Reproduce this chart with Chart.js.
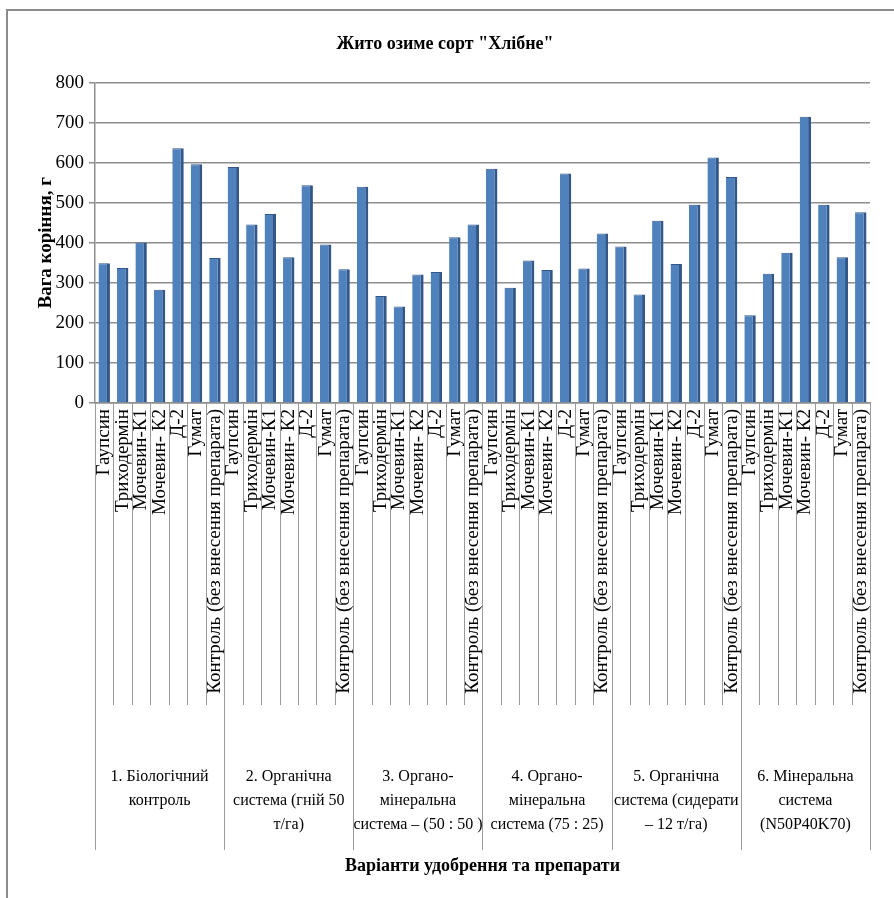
<!DOCTYPE html>
<html>
<head>
<meta charset="utf-8">
<script src="https://cdn.jsdelivr.net/npm/chart.js@4/dist/chart.umd.min.js"></script>
<style>
  body { margin: 0; background: #fff; }
  #wrap { position: relative; width: 894px; height: 898px; }
  #frame { position: absolute; left: 6px; top: 9px; width: 900px; height: 900px;
           border-top: 2px solid #8c8c8c; border-left: 2px solid #8c8c8c; }
  canvas { position: absolute; left: 0; top: 0; }
</style>
</head>
<body>
<div id="wrap">
  <div id="frame"></div>
  <canvas id="rootChart" width="894" height="898"></canvas>
</div>
<script>
const preparations = [
  "Гаупсин",
  "Триходермін",
  "Мочевин-К1",
  "Мочевин- К2",
  "Д-2",
  "Гумат",
  "Контроль (без внесення препарата)",
];

const groups = [
  ["1. Біологічний", "контроль"],
  ["2. Органічна", "система (гній 50", "т/га)"],
  ["3. Органо-", "мінеральна", "система – (50 : 50 )"],
  ["4. Органо-", "мінеральна", "система (75 : 25)"],
  ["5. Органічна", "система (сидерати", "– 12 т/га)"],
  ["6. Мінеральна", "система", "(N50P40K70)"],
];

// root weight, g (per fertiliser system, same order as preparations)
const biological = [349, 337, 401, 283, 636, 596, 362];
const organicManure = [589, 446, 472, 364, 544, 396, 334];
const organoMineral5050 = [540, 267, 241, 321, 327, 414, 446];
const organoMineral7525 = [585, 288, 356, 332, 573, 336, 423];
const organicSiderates = [391, 271, 455, 347, 495, 613, 564];
const mineral = [219, 323, 375, 715, 495, 364, 476];

const yTicks = { min: 0, max: 800, step: 100 };

const serif = "'Liberation Serif', 'Times New Roman', serif";

document.addEventListener("DOMContentLoaded", () => {
  const ctx = document.getElementById("rootChart").getContext("2d");

  const labels = [];
  groups.forEach(() => preparations.forEach((p) => labels.push(p)));
  const values = [
    ...biological,
    ...organicManure,
    ...organoMineral5050,
    ...organoMineral7525,
    ...organicSiderates,
    ...mineral,
  ];

  // lines between category labels and between groups
  const separators = {
    id: "separators",
    afterDraw(chart) {
      const x = chart.scales.x;
      const x2 = chart.scales.x2;
      const half = (x.getPixelForValue(1) - x.getPixelForValue(0)) / 2;
      const c = chart.ctx;
      c.save();
      c.strokeStyle = "#9a9a9a";
      c.lineWidth = 1;
      for (let i = 0; i <= labels.length; i++) {
        const px = Math.round(x.getPixelForValue(i) - half) + 0.5;
        const bottom = i % preparations.length === 0 ? x2.bottom - 38 : x.bottom;
        c.beginPath();
        c.moveTo(px, x.top);
        c.lineTo(px, bottom);
        c.stroke();
      }
      c.restore();
    },
  };

  const noSidePadding = (scale) => {
    scale.paddingLeft = 0;
    scale.paddingRight = 0;
  };

  new Chart(ctx, {
    type: "bar",
    data: {
      labels: labels,
      datasets: [
        {
          label: "Вага коріння, г",
          data: values,
          xAxisID: "x",
          backgroundColor: "#4f81bd",
          borderColor: "#34578a",
          borderWidth: { right: 3, top: 1, left: 0, bottom: 0 },
          borderSkipped: false,
          categoryPercentage: 1,
          barPercentage: 0.62,
        },
      ],
    },
    options: {
      responsive: false,
      animation: false,
      layout: { padding: { left: 20, right: 24, top: 10, bottom: 10 } },
      plugins: {
        legend: { display: false },
        tooltip: { enabled: false },
        title: {
          display: true,
          text: 'Жито озиме сорт "Хлібне"',
          color: "#000",
          font: { family: serif, size: 18, weight: "bold" },
          padding: { top: 24, bottom: 27 },
        },
      },
      scales: {
        y: {
          min: yTicks.min,
          max: yTicks.max,
          ticks: {
            stepSize: yTicks.step,
            color: "#000",
            font: { family: serif, size: 19 },
            padding: 5,
          },
          grid: { color: "#8e8e8e", lineWidth: 1.5, tickLength: 6 },
          border: { color: "#8e8e8e", width: 1.5 },
          title: {
            display: true,
            text: "Вага коріння, г",
            color: "#000",
            font: { family: serif, size: 19, weight: "bold" },
            padding: { top: 15, bottom: 0 },
          },
          afterFit(scale) {
            scale.width = 75;
          },
        },
        x: {
          position: "bottom",
          grid: { display: false, drawTicks: false },
          border: { color: "#8e8e8e", width: 1.5 },
          ticks: {
            autoSkip: false,
            minRotation: 90,
            maxRotation: 90,
            padding: 6,
            color: "#000",
            font: { family: serif, size: 19 },
          },
          afterFit(scale) {
            scale.height = 302;
            noSidePadding(scale);
          },
        },
        x2: {
          type: "category",
          position: "bottom",
          labels: groups,
          offset: true,
          grid: { display: false, drawTicks: false },
          border: { display: false },
          ticks: {
            autoSkip: false,
            maxRotation: 0,
            padding: 60,
            color: "#000",
            font: { family: serif, size: 16, lineHeight: 1.5 },
          },
          title: {
            display: true,
            text: "Варіанти удобрення та препарати",
            color: "#000",
            font: { family: serif, size: 18, weight: "bold" },
            padding: { top: 0, bottom: 11 },
          },
          afterFit(scale) {
            scale.height = 183;
            noSidePadding(scale);
          },
        },
      },
    },
    plugins: [separators],
  });
});
</script>
</body>
</html>
